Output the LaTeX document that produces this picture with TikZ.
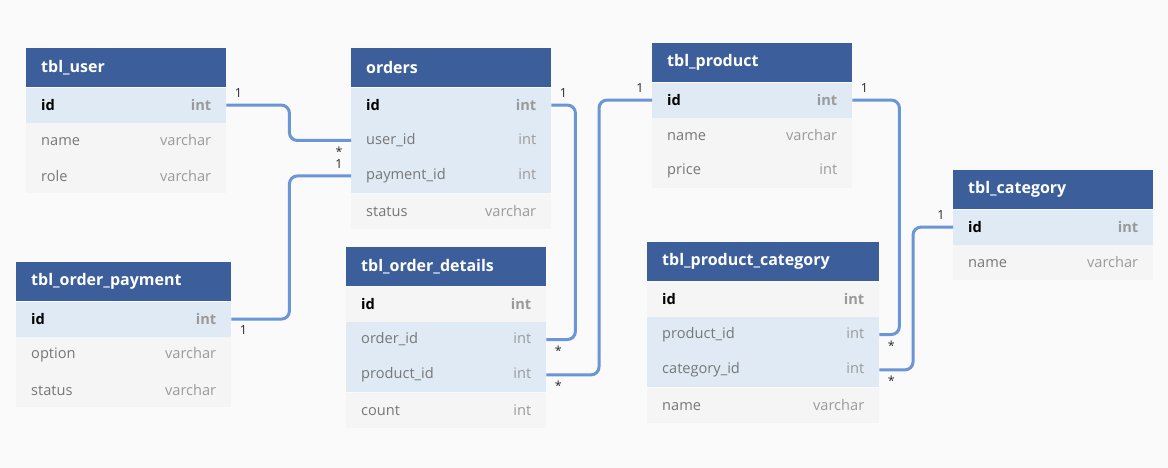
\documentclass[tikz,border=0pt]{standalone}
\usepackage{fontspec}
\setmainfont{Open Sans}
\usepackage{tikz}
\usetikzlibrary{positioning}

\definecolor{bgc}{HTML}{FAFAFA}
\definecolor{headc}{HTML}{3C5E9B}
\definecolor{fkc}{HTML}{DFEAF5}
\definecolor{rowc}{HTML}{F5F5F5}
\definecolor{namec}{HTML}{777777}
\definecolor{typec}{HTML}{9A9A9A}
\definecolor{relc}{HTML}{6B96D6}

% field name left, type pushed right
\newcommand{\fld}[2]{#1\hskip 0pt plus 1filll\textcolor{typec}{#2}}
\newcommand{\pkfld}[2]{\textcolor{black}{\textbf{#1}}\hskip 0pt plus 1filll\textcolor{typec}{\textbf{#2}}}

\tikzset{
  tbl head/.style={rectangle, fill=headc, text=white, anchor=north west,
    font=\fontsize{16}{19}\selectfont\bfseries, text width=#1,
    inner xsep=15pt, inner ysep=0pt, minimum height=39pt},
  tbl head/.default=170pt,
  tbl row/.style={rectangle, fill=rowc, text=namec,
    font=\fontsize{14.6}{17}\selectfont, text width=#1,
    inner xsep=15pt, inner ysep=0pt, minimum height=35pt},
  tbl row/.default=170pt,
  fk row/.style={tbl row=#1, fill=fkc},
  fk row/.default=170pt,
  rel/.style={draw=relc, line width=3pt, rounded corners=8pt},
  card/.style={font=\fontsize{12.5}{13}\selectfont, text=black!85, inner sep=1pt},
  c ar/.style={card, anchor=south west, xshift=6pt, yshift=5pt},
  c al/.style={card, anchor=south east, xshift=-6pt, yshift=5pt},
  c br/.style={card, anchor=north west, xshift=6pt, yshift=-4pt},
  c bl/.style={card, anchor=north east, xshift=-6pt, yshift=-4pt},
}

\begin{document}
\begin{tikzpicture}[x=1pt, y=-1pt]
    \fill[bgc] (0,0) rectangle (1168,468);
    \useasboundingbox (0,0) rectangle (1168,468);

    % tbl_user
    \node[tbl head] (user) at (26,48) {tbl\_user};
    \node[fk row, below=0pt of user] (user_id) {\pkfld{id}{int}};
    \node[tbl row, below=0pt of user_id] (user_name) {\fld{name}{varchar}};
    \node[tbl row, below=0pt of user_name] (user_role) {\fld{role}{varchar}};

    % orders
    \node[tbl head] (orders) at (351,48) {orders};
    \node[fk row, below=0pt of orders] (orders_id) {\pkfld{id}{int}};
    \node[fk row, below=0pt of orders_id] (orders_user_id) {\fld{user\_id}{int}};
    \node[fk row, below=0pt of orders_user_id] (orders_payment_id) {\fld{payment\_id}{int}};
    \node[tbl row, below=0pt of orders_payment_id] (orders_status) {\fld{status}{varchar}};

    % tbl_product
    \node[tbl head] (product) at (652,43) {tbl\_product};
    \node[fk row, below=0pt of product] (product_id) {\pkfld{id}{int}};
    \node[tbl row, below=0pt of product_id] (product_name) {\fld{name}{varchar}};
    \node[tbl row, below=0pt of product_name] (product_price) {\fld{price}{int}};

    % tbl_category
    \node[tbl head] (category) at (953,170) {tbl\_category};
    \node[fk row, below=0pt of category] (category_id) {\pkfld{id}{int}};
    \node[tbl row, below=0pt of category_id] (category_name) {\fld{name}{varchar}};

    % tbl_order_payment
    \node[tbl head=185pt] (payment) at (16,262) {tbl\_order\_payment};
    \node[fk row=185pt, below=0pt of payment] (payment_id) {\pkfld{id}{int}};
    \node[tbl row=185pt, below=0pt of payment_id] (payment_option) {\fld{option}{varchar}};
    \node[tbl row=185pt, below=0pt of payment_option] (payment_status) {\fld{status}{varchar}};

    % tbl_order_details
    \node[tbl head] (details) at (346,247) {tbl\_order\_details};
    \node[tbl row, below=0pt of details] (details_id) {\pkfld{id}{int}};
    \node[fk row, below=0pt of details_id] (details_order_id) {\fld{order\_id}{int}};
    \node[fk row, below=0pt of details_order_id] (details_product_id) {\fld{product\_id}{int}};
    \node[tbl row, below=0pt of details_product_id] (details_count) {\fld{count}{int}};

    % tbl_product_category
    \node[tbl head=202pt] (pcat) at (647,242) {tbl\_product\_category};
    \node[tbl row=202pt, below=0pt of pcat] (pcat_id) {\pkfld{id}{int}};
    \node[fk row=202pt, below=0pt of pcat_id] (pcat_product_id) {\fld{product\_id}{int}};
    \node[fk row=202pt, below=0pt of pcat_product_id] (pcat_category_id) {\fld{category\_id}{int}};
    \node[tbl row=202pt, below=0pt of pcat_category_id] (pcat_name) {\fld{name}{varchar}};

    % Relations
    \draw[rel] (user_id.east) node[c ar] {1} -- ++(63,0) |- (orders_user_id.west) node[c bl] {*};
    \draw[rel] (payment_id.east) node[c br] {1} -- ++(58,0) |- (orders_payment_id.west) node[c al] {1};
    \draw[rel] (orders_id.east) node[c ar] {1} -- ++(24,0) |- (details_order_id.east) node[c br] {*};
    \draw[rel] (product_id.west) node[c al] {1} -- ++(-53,0) |- (details_product_id.east) node[c br] {*};
    \draw[rel] (product_id.east) node[c ar] {1} -- ++(47,0) |- (pcat_product_id.east) node[c br] {*};
    \draw[rel] (category_id.west) node[c al] {1} -- ++(-40,0) |- (pcat_category_id.east) node[c br] {*};

\end{tikzpicture}
\end{document}
